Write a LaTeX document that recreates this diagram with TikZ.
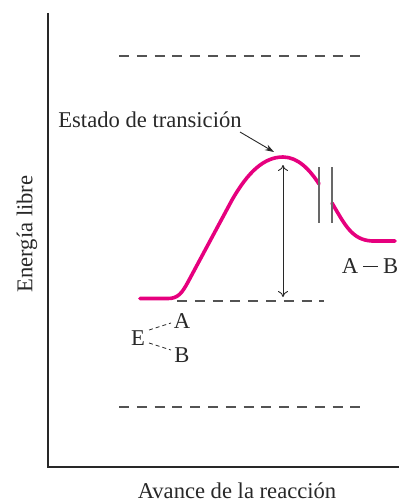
\documentclass[tikz,border=0pt]{standalone}
\usepackage{fontspec}
\setmainfont{Liberation Serif}
\usetikzlibrary{arrows.meta}
\definecolor{curvemag}{RGB}{230,0,126}
\definecolor{ink}{RGB}{40,40,40}
\begin{document}
\begin{tikzpicture}[x=1pt,y=-1pt,
  lbl/.style={font=\fontsize{22.6}{26}\selectfont, text=ink, inner sep=0pt},
  axisline/.style={draw=ink, line width=2pt},
  level/.style={draw=ink!80, line width=1.3pt, dash pattern=on 10pt off 7.8pt},
  thindash/.style={draw=ink, line width=0.8pt, dash pattern=on 4pt off 3pt},
  energy/.style={draw=curvemag, line width=3.6pt, line cap=round},
  breakmark/.style={draw=ink!70, line width=1.2pt}]
\useasboundingbox (0,0) rectangle (399,503);
% axes
\coordinate (top) at (48,13);
\coordinate (orig) at (48,467);
\coordinate (xend) at (399,467);
\draw[axisline] (top) -- (orig) -- (xend);
% levels
\coordinate (l1a) at (119,56); \coordinate (l1b) at (361,56);
\coordinate (l2a) at (177,301); \coordinate (l2b) at (324,301);
\coordinate (l3a) at (119,407); \coordinate (l3b) at (361,407);
\draw[level] (l1a) -- (l1b);
\draw[level] (l2a) -- (l2b);
\draw[level] (l3a) -- (l3b);
% energy curve
\draw[energy] (140,298.5) -- (168,298.5) .. controls (178,298.5) and (182,293) .. (188,282)
  -- (232,200) .. controls (248,172) and (264,157) .. (283,157)
  .. controls (298,157) and (310,170) .. (319,184);
\draw[energy] (332,203) .. controls (345,225) and (352,240) .. (372,241) -- (395,241);
% break marks
\coordinate (b1a) at (319,167); \coordinate (b1b) at (319,223);
\coordinate (b2a) at (332,167); \coordinate (b2b) at (332,223);
\draw[breakmark] (b1a) -- (b1b);
\draw[breakmark] (b2a) -- (b2b);
% activation arrow
\coordinate (ar1) at (283,165); \coordinate (ar2) at (283,297);
\draw[draw=ink, line width=0.9pt, {To[length=6pt,width=10pt]}-{To[length=6pt,width=10pt]}] (ar1) -- (ar2);
% labels
\node[lbl] (ts) at (150,120) {Estado de transición};
\coordinate (peak) at (274,152);
\draw[draw=ink, line width=0.9pt, -{Stealth[length=9pt,width=6pt]}] (240,132) -- (peak);
\node[lbl, anchor=east] (ab) at (398.5,266) {A\hspace{5pt}\rule[6.5pt]{15pt}{1.1pt}\hspace{5pt}B};
\node[lbl] (e) at (138,338) {E};
\node[lbl] (a) at (182,321) {A};
\node[lbl] (b) at (182,355) {B};
\draw[thindash] (149,330) -- (171,323);
\draw[thindash] (149,343) -- (171,350);
\node[lbl, rotate=90] (ylab) at (27,234) {Energía libre};
\node[lbl] (xlab) at (237,491) {Avance de la reacción};
\end{tikzpicture}
\end{document}
